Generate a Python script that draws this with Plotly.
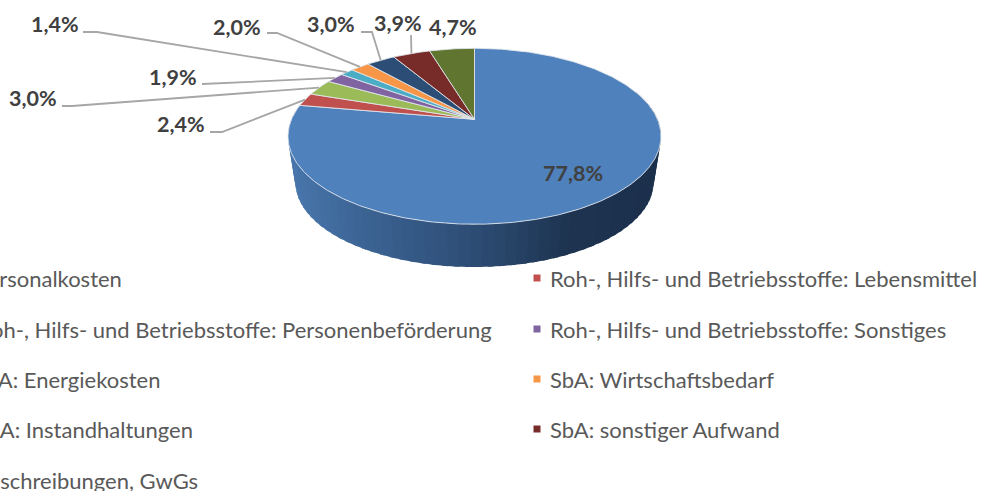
import numpy as np
import plotly.graph_objects as go

categories = [
    "Personalkosten",
    "Roh-, Hilfs- und Betriebsstoffe: Lebensmittel",
    "Roh-, Hilfs- und Betriebsstoffe: Personenbeförderung",
    "Roh-, Hilfs- und Betriebsstoffe: Sonstiges",
    "SbA: Energiekosten",
    "SbA: Wirtschaftsbedarf",
    "SbA: Instandhaltungen",
    "SbA: sonstiger Aufwand",
    "Abschreibungen, GwGs",
]
values = [77.8, 2.4, 3.0, 1.9, 1.4, 2.0, 3.0, 3.9, 4.7]
colors = ["#4F81BD", "#C0504D", "#9BBB59", "#8064A2", "#4BACC6",
          "#F79646", "#2C4D75", "#772C2A", "#5F7530"]

# pixel-like layout of the page
W, H = 985, 491
CX, CY = 474.5, 119.3      # apex of the pie
RX, RY, PERSP = 183.0, 84.7, 0.193
DEPTH_SCALE, DEPTH = 0.96, 47.0

LABEL_POS = [(573, 173), (181, 124), (33, 98), (173, 77), (55, 24),
             (237, 27), (331, 24), (398, 23), (453, 27)]
ELBOWS = [None,
          [(210, 132), (222, 132)],
          [(62, 106), (72, 106)],
          [(202, 84)],
          [(83, 32), (97, 32)],
          [(267, 33), (277, 33)],
          [(361, 32), (372, 32)],
          [(411, 35)],
          None]
LEGEND_Y = [278, 278, 329, 329, 379, 379, 429, 429, 480]
# left column is cut by the page edge, so it is anchored on its right end
LEGEND_ANCHOR = [("right", 124), ("left", 548), ("right", 494), ("left", 548),
                 ("right", 162), ("left", 548), ("right", 195), ("left", 548),
                 ("right", 200)]
LEGEND_MARK_X = [-35, 537]


def rim(theta_deg, scale=1.0, dy=0.0):
    t = np.radians(np.asarray(theta_deg, dtype=float))
    u, v = np.sin(t), np.cos(t)
    w = 1 + PERSP * v
    return CX + scale * RX * u / w, CY - scale * RY * v / w + dy


def lerp(a, b, f):
    return tuple(a[i] + (b[i] - a[i]) * f for i in range(3))


def side_color(x):
    stops = [(290, (72, 118, 172)), (360, (60, 100, 148)), (474, (45, 76, 116)),
             (570, (30, 52, 80)), (661, (28, 48, 76))]
    for (x0, c0), (x1, c1) in zip(stops, stops[1:]):
        if x <= x1:
            c = lerp(c0, c1, max(0, (x - x0) / (x1 - x0)))
            return "rgb(%d,%d,%d)" % c
    return "rgb(28,48,76)"


fig = go.Figure()

# Side wall of the pie, painted as narrow strips to give the shading.
edges = np.linspace(70, 280, 71)
for a, b in zip(edges[:-1], edges[1:]):
    ts = np.array([a, b + 1.5])
    xt, yt = rim(ts)
    xb, yb = rim(ts, DEPTH_SCALE, DEPTH)
    col = side_color(float(np.mean(xt)))
    fig.add_trace(go.Scatter(
        x=[xt[0], xt[1], xb[1], xb[0], xt[0]],
        y=[yt[0], yt[1], yb[1], yb[0], yt[0]],
        mode="lines", fill="toself", fillcolor=col,
        line=dict(color=col, width=0), hoverinfo="skip", showlegend=False))

# Top face of the pie, clockwise from 12 o'clock.
total = sum(values)
cum = 0.0
mids = []
for name, val, col in zip(categories, values, colors):
    start = cum / total * 360
    end = (cum + val) / total * 360
    mids.append((start + end) / 2)
    ts = np.linspace(start, end, max(4, int(val * 6)))
    xs, ys = rim(ts)
    fig.add_trace(go.Scatter(
        x=[CX, *xs, CX], y=[CY, *ys, CY],
        mode="lines", fill="toself", fillcolor=col, name=name,
        line=dict(color="rgba(226,230,236,0.85)", width=1),
        hovertemplate=f"{name}: {val}%<extra></extra>", showlegend=False))
    cum += val

# Leader lines from the slices to the data labels.
for mid, elbow in zip(mids, ELBOWS):
    if elbow is None:
        continue
    tx, ty = rim(mid)
    fig.add_trace(go.Scatter(
        x=[p[0] for p in elbow] + [float(tx)],
        y=[p[1] for p in elbow] + [float(ty)],
        mode="lines", line=dict(color="#A6A6A6", width=1.8),
        hoverinfo="skip", showlegend=False))

# Legend markers.
fig.add_trace(go.Scatter(
    x=[LEGEND_MARK_X[i % 2] for i in range(len(categories))],
    y=LEGEND_Y,
    mode="markers",
    marker=dict(symbol="square", size=7, color=colors, line=dict(width=0)),
    hoverinfo="skip", showlegend=False))

annotations = []
for val, (lx, ly) in zip(values, LABEL_POS):
    annotations.append(dict(
        x=lx, y=ly, xref="x", yref="y", showarrow=False,
        text=f"<b>{val:.1f}%</b>".replace(".", ","),
        font=dict(family="Lato", size=21.5, color="#404040"),
        xanchor="center", yanchor="middle"))
for name, ly, (anchor, ax) in zip(categories, LEGEND_Y, LEGEND_ANCHOR):
    annotations.append(dict(
        x=ax, y=ly, xref="x", yref="y", showarrow=False,
        text=name, font=dict(family="Lato", size=22, color="#595959"),
        xanchor=anchor, yanchor="middle"))

fig.update_layout(
    width=W, height=H, autosize=False,
    margin=dict(l=0, r=0, t=0, b=0),
    paper_bgcolor="white", plot_bgcolor="white",
    xaxis=dict(range=[0, W], visible=False, fixedrange=True),
    yaxis=dict(range=[H, 0], visible=False, fixedrange=True),
    annotations=annotations, showlegend=False)

fig.write_html("out.html", config=dict(displayModeBar=False),
               post_script="document.body.style.margin='0';document.body.style.overflow='hidden';")
